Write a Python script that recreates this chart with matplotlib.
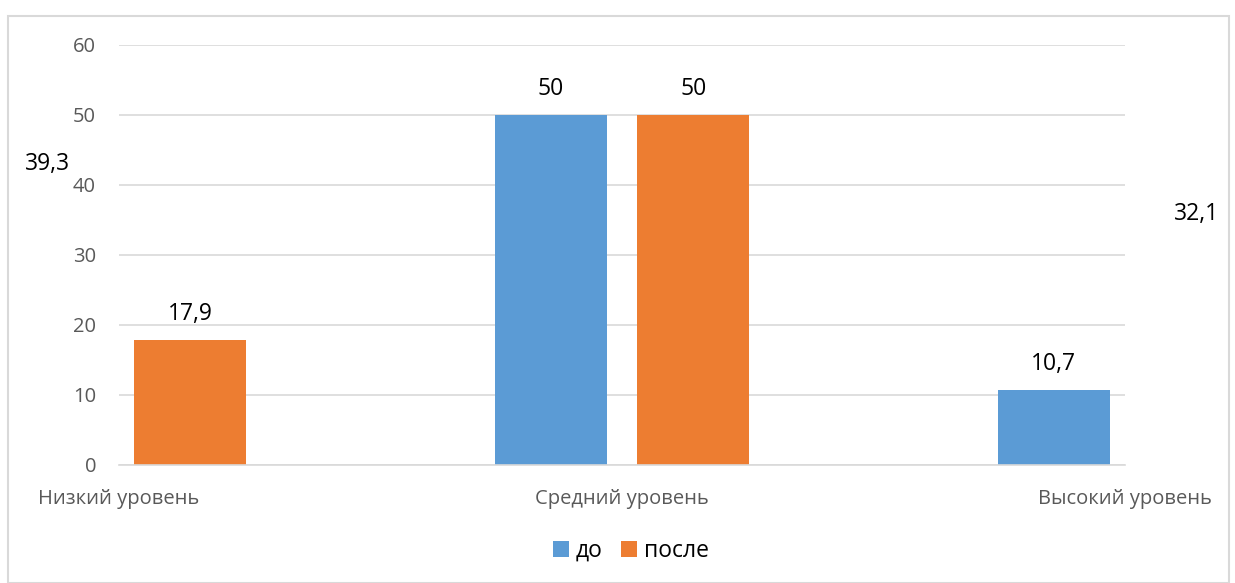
import matplotlib
matplotlib.use("Agg")
import matplotlib.pyplot as plt
from matplotlib.patches import Rectangle
import numpy as np

categories = ["Низкий уровень", "Средний уровень", "Высокий уровень"]
series_names = ["до", "после"]
before = [39.3, 50, 10.7]
after = [17.9, 50, 32.1]
before_labels = ["39,3", "50", "10,7"]
after_labels = ["17,9", "50", "32,1"]
yticks = [0, 10, 20, 30, 40, 50, 60]

BLUE = "#5B9BD5"
ORANGE = "#ED7D31"
GRID = "#D9D9D9"
TICK = "#595959"

plt.rcParams['font.family'] = ['Open Sans', 'DejaVu Sans']

W, H = 1235, 583
fig = plt.figure(figsize=(W / 100, H / 100), dpi=100)
ax = fig.add_axes([119 / W, 1 - 465 / H, (1125 - 119) / W, (465 - 45) / H])

x = np.arange(len(categories))
width = 0.2227
off = 0.142
ax.bar(x - off, before, width, color=BLUE, label=series_names[0])
ax.bar(x + off, after, width, color=ORANGE, label=series_names[1])

for xs, vals, labs in ((x - off, before, before_labels), (x + off, after, after_labels)):
    for xi, v, t in zip(xs, vals, labs):
        ax.annotate(t, (xi, v), xytext=(0, 26), textcoords="offset pixels",
                    ha="center", va="center", fontsize=16.5, color="black",
                    annotation_clip=False)

ax.set_xlim(0, 2)
ax.set_ylim(0, 60)
ax.set_yticks(yticks)
ax.set_yticklabels([str(v) for v in yticks], fontsize=14.5, color=TICK)
ax.set_xticks(x)
ax.set_xticklabels(categories, fontsize=14.5, color=TICK)
ax.tick_params(axis="y", length=0, pad=16.5)
ax.tick_params(axis="x", length=0, pad=17)
ax.grid(axis="y", color=GRID, linewidth=1.2)
ax.set_axisbelow(True)
for s in ["top", "right", "left"]:
    ax.spines[s].set_visible(False)
ax.spines["bottom"].set_color(GRID)
ax.spines["bottom"].set_linewidth(1.2)

leg = fig.legend(loc="center", bbox_to_anchor=(631 / W, 1 - 551 / H),
                 ncol=2, frameon=False, fontsize=16.5, handlelength=0.7,
                 handleheight=0.7, handletextpad=0.3, columnspacing=0.8)

fig.patches.append(Rectangle((8 / W, 0), (1229 - 8) / W, 1 - 16 / H,
                             transform=fig.transFigure, fill=False,
                             edgecolor=GRID, linewidth=1.5))

fig.savefig("out.png", dpi=100, facecolor="white")
